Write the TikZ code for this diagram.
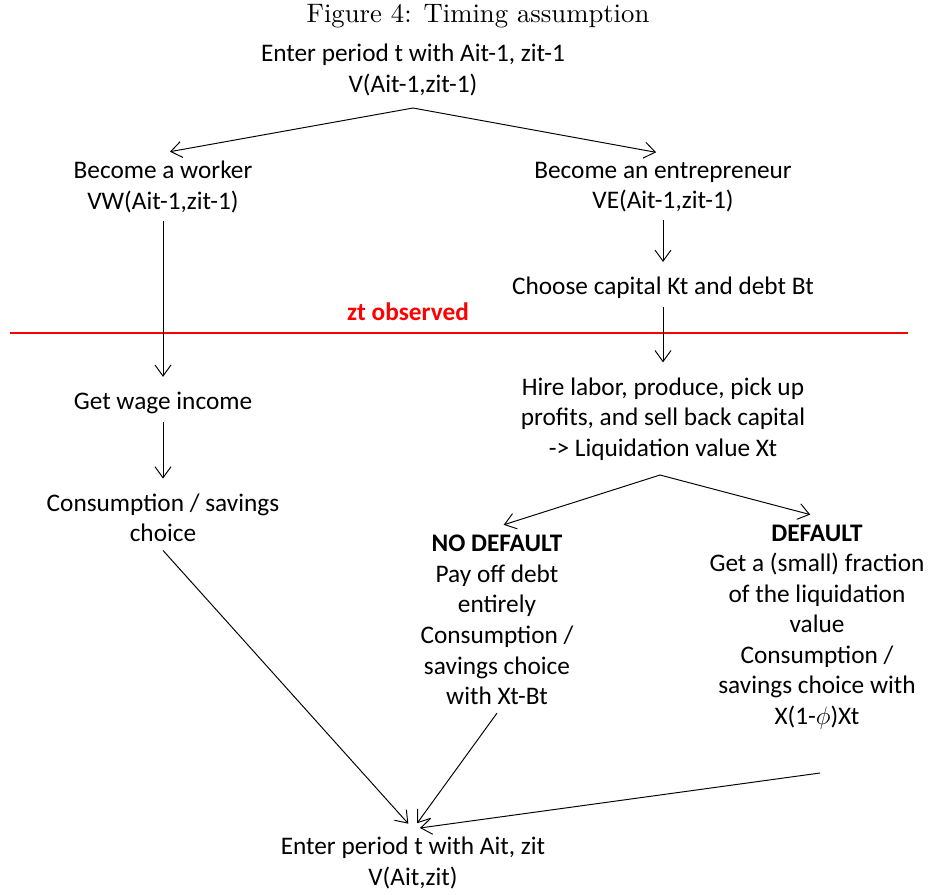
\documentclass[tikz,border=0pt]{standalone}
\usepackage{fontspec}
\newfontfamily\calfont{Carlito}
\usetikzlibrary{arrows.meta}

\begin{document}
\begin{tikzpicture}[x=0.02cm, y=-0.02cm,
    every node/.style={font=\calfont\fontsize{14.4}{17.4}\selectfont, align=center, inner sep=4.5pt},
    arr/.style={-{Straight Barb[length=2.2mm,width=3.2mm]}, line width=0.55pt, shorten >=4pt}]
    \useasboundingbox (0,0) rectangle (930,894);

    \node[scale=1.52, font=\rmfamily\normalsize] (title) at (478,16) {Figure 4: Timing assumption};

    \node (start) at (413,70) {Enter period t with Ait-1, zit-1\\V(Ait-1,zit-1)};
    \node (worker) at (163,187) {Become a worker\\VW(Ait-1,zit-1)};
    \node (entre) at (663,187) {Become an entrepreneur\\VE(Ait-1,zit-1)};
    \node (choose) at (663,288) {Choose capital Kt and debt Bt};
    \node (wage) at (163,403) {Get wage income};
    \node (cons) at (163,518) {Consumption / savings\\choice};
    \node (hire) at (663,419) {Hire labor, produce, pick up\\profits, and sell back capital\\-> Liquidation value Xt};
    \node (nodef) at (497,620) {\textbf{NO DEFAULT}\\Pay off debt\\entirely\\Consumption /\\savings choice\\with Xt-Bt};
    \node (def) at (817,627) {\textbf{DEFAULT}\\Get a (small) fraction\\of the liquidation\\value\\Consumption /\\savings choice with\\X(1-$\phi$)Xt};
    \node (end) at (413,863) {Enter period t with Ait, zit\\V(Ait,zit)};

    \draw[red, line width=0.8pt] (10,333) -- (908,333);
    \node[text=red, font=\calfont\bfseries\fontsize{14.4}{17.4}\selectfont] (obs) at (408,312) {zt observed};

    \coordinate (fork1) at (413,108);
    \coordinate (fork2) at (660,475);
    \coordinate (defout) at (820,773);

    \draw[arr] (fork1) -- (worker.north);
    \draw[arr] (fork1) -- (entre.north);
    \draw[arr] (entre.south) -- (choose.north);
    \draw[arr] (worker.south) -- (wage.north);
    \draw[arr] (choose.south) -- (hire.north);
    \draw[arr] (wage.south) -- (cons.north);
    \draw[arr] (fork2) -- (nodef.north);
    \draw[arr] (fork2) -- (def.north);
    \draw[arr] (cons.south) -- (end.north);
    \draw[arr] (nodef.south) -- (end.north);
    \draw[arr] (defout) -- (end.north);
\end{tikzpicture}
\end{document}
